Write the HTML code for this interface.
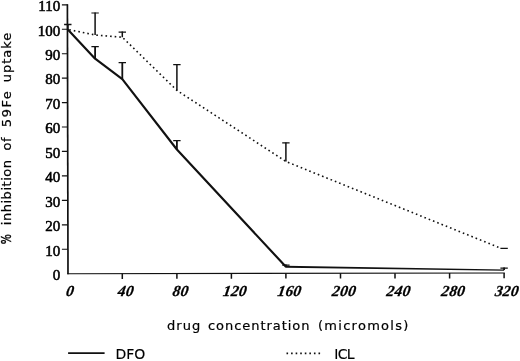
<!DOCTYPE html>
<html><head><meta charset="utf-8"><title>chart</title>
<style>
html,body{margin:0;padding:0;background:#fff;}
svg{display:block;}
.yt{font-family:"Liberation Serif",serif;font-size:15px;text-anchor:end;fill:#000;stroke:#000;stroke-width:0.55px;}
.xt{font-family:"Liberation Serif",serif;font-size:15.3px;font-style:italic;font-weight:bold;text-anchor:middle;fill:#000;stroke:#000;stroke-width:0.3px;letter-spacing:0.3px;}
.lab{font-family:"DejaVu Sans","Liberation Sans",sans-serif;font-size:13.0px;fill:#000;stroke:#000;stroke-width:0.2px;}
.leg{font-family:"DejaVu Sans","Liberation Sans",sans-serif;font-size:14px;fill:#000;stroke:#000;stroke-width:0.15px;}
</style></head><body>
<svg width="520" height="361" viewBox="0 0 520 361">
<rect width="520" height="361" fill="#fff"/>

<path d="M67.39999999999999 4.3L68.0 274.2" fill="none" stroke="#111" stroke-width="1.7"/>
<path d="M67.3 273.7L504.8 273.0" fill="none" stroke="#111" stroke-width="1.15"/>
<path d="M61.9 249.2H67.8M61.9 224.8H67.8M61.9 200.3H67.8M61.9 175.9H67.8M61.9 151.4H67.8M61.9 127.0H67.8M61.9 102.6H67.8M61.9 78.1H67.8M61.9 53.7H67.8M61.9 29.2H67.8M61.9 4.8H67.8" fill="none" stroke="#111" stroke-width="1.15"/>
<path d="M122.3 273.6v5.3M176.9 273.5v5.3M231.4 273.4v5.3M285.9 273.3v5.3M340.5 273.3v5.3M395.0 273.2v5.3M449.6 273.1v5.3M504.1 273.0v5.3" fill="none" stroke="#111" stroke-width="1.5"/>
<text class="yt" x="60.3" y="279.9">0</text>
<text class="yt" x="60.3" y="255.5">10</text>
<text class="yt" x="60.3" y="231.1">20</text>
<text class="yt" x="60.3" y="206.6">30</text>
<text class="yt" x="60.3" y="182.2">40</text>
<text class="yt" x="60.3" y="157.7">50</text>
<text class="yt" x="60.3" y="133.3">60</text>
<text class="yt" x="60.3" y="108.9">70</text>
<text class="yt" x="60.3" y="84.4">80</text>
<text class="yt" x="60.3" y="60.0">90</text>
<text class="yt" x="60.3" y="35.5">100</text>
<text class="yt" x="60.3" y="11.1">110</text>
<text class="xt" transform="translate(69.6 296.4) skewX(-9)">0</text>
<text class="xt" transform="translate(125.3 296.4) skewX(-9)">40</text>
<text class="xt" transform="translate(179.9 296.4) skewX(-9)">80</text>
<text class="xt" transform="translate(234.4 296.4) skewX(-9)">120</text>
<text class="xt" transform="translate(288.9 296.4) skewX(-9)">160</text>
<text class="xt" transform="translate(343.5 296.4) skewX(-9)">200</text>
<text class="xt" transform="translate(398.0 296.4) skewX(-9)">240</text>
<text class="xt" transform="translate(452.6 296.4) skewX(-9)">280</text>
<text class="xt" transform="translate(506.3 296.4) skewX(-9)">320</text>
<polyline points="67.8,29.4 95.1,58.7 122.3,79.2 176.9,149.5 285.9,266.8" fill="none" stroke="#111" stroke-width="2.15" stroke-linejoin="round"/>
<path d="M285.3 265.7L504.1 269.4V270.8L285.3 267.8Z" fill="#111"/>
<polyline points="67.8,29.4 95.1,35.0 122.3,37.2 176.9,90.4 285.9,161.5 500.0,247.9" fill="none" stroke="#111" stroke-width="1.6" stroke-dasharray="1.6 3.0" stroke-dashoffset="-1.5"/>
<path d="M67.8 29.4V23.9M95.1 58.7V46.1M122.3 79.2V62.0M176.9 149.5V140.1M285.9 266.8V264.5M504.1 270.1V267.5" fill="none" stroke="#111" stroke-width="1.8"/>
<path d="M64.1 24.5h7.4M91.4 46.7h7.4M118.6 62.6h7.4M173.2 140.7h7.4M282.2 265.1h7.4M500.4 268.1h7.4" fill="none" stroke="#111" stroke-width="1.3"/>
<path d="M95.1 35.0V12.5M122.3 37.2V31.5M176.9 90.4V64.0M285.9 161.5V142.4" fill="none" stroke="#111" stroke-width="1.5"/>
<path d="M91.4 13.0h7.4M118.6 32.1h7.4M173.2 64.6h7.4M282.2 142.9h7.4M500.4 248.4h7.4" fill="none" stroke="#111" stroke-width="1.15"/>
<text class="lab" x="167.05" y="330.4" textLength="33.21" lengthAdjust="spacing">drug</text>
<text class="lab" x="208.02" y="330.4" textLength="101.44" lengthAdjust="spacing">concentration</text>
<text class="lab" x="317.98" y="330.4" textLength="90.33" lengthAdjust="spacing">(micromols)</text>
<g transform="translate(11.4 243.7) rotate(-90)">
<text class="lab" style="font-size:14.6px;stroke-width:0.4px" x="-0.52" y="-0.4" textLength="10.16" lengthAdjust="spacingAndGlyphs">%</text>
<text class="lab" x="18.43" y="0" textLength="65.35" lengthAdjust="spacing">inhibition</text>
<text class="lab" x="93.09" y="0" textLength="13.15" lengthAdjust="spacing">of</text>
<text class="lab" x="116.55" y="0" textLength="35.89" lengthAdjust="spacing">59Fe</text>
<text class="lab" x="161.55" y="0" textLength="49.28" lengthAdjust="spacing">uptake</text>
</g>
<path d="M68.1 353.2H104.6" stroke="#111" stroke-width="1.8"/>
<path d="M286.5 353.4H321" stroke="#111" stroke-width="1.7" stroke-dasharray="1.6 2.97"/>
<text class="leg" x="115.52" y="359" textLength="29.77" lengthAdjust="spacing">DFO</text>
<text class="leg" x="334.21" y="359" textLength="20.34" lengthAdjust="spacing">ICL</text>
</svg></body></html>
